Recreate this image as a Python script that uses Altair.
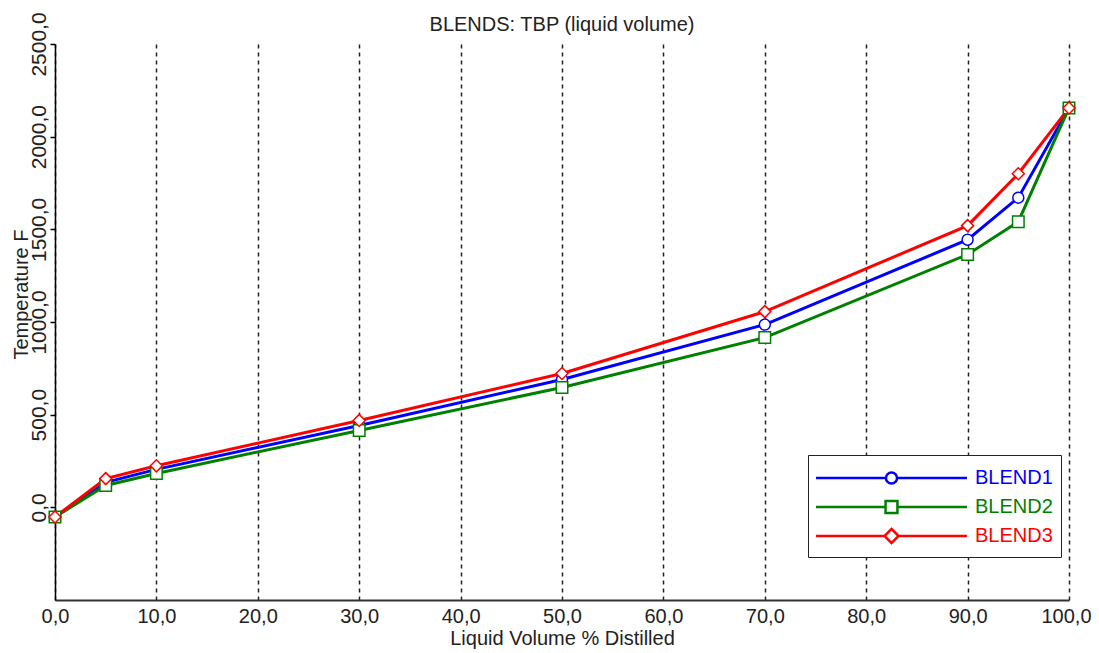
import altair as alt
import pandas as pd

# ---- data ----
x_vals = [0, 5, 10, 30, 50, 70, 90, 95, 100]
blend1 = [-52, 135, 205, 442, 690, 986, 1444, 1671, 2155]
blend2 = [-52, 118, 183, 415, 647, 916, 1364, 1541, 2155]
blend3 = [-52, 155, 224, 469, 722, 1056, 1520, 1800, 2155]
series_names = ["BLEND1", "BLEND2", "BLEND3"]
series_colors = ["#0000FF", "#008000", "#FF0000"]
series_shapes = ["circle", "square", "diamond"]
series_sizes = [121, 144, 196]
x_ticks = [0, 10, 20, 30, 40, 50, 60, 70, 80, 90, 100]
y_ticks = [0, 500, 1000, 1500, 2000, 2500]

rows = []
for name, vals in zip(series_names, [blend1, blend2, blend3]):
    for xv, yv in zip(x_vals, vals):
        rows.append({"x": xv, "y": yv, "series": name})
df = pd.DataFrame(rows)

FONT = "Liberation Sans"
fmt = "replace(format(datum.value, '.1f'), '.', ',')"

# legend symbols: line with marker, in symbol units
L = 5.59
r = 0.41
h = 0.44
d = 0.52
legend_paths = [
    f"M{-L},0L{-r},0M{r},0L{L},0M{r},0A{r},{r},0,1,1,{-r},0A{r},{r},0,1,1,{r},0Z",
    f"M{-L},0L{-h},0M{h},0L{L},0M{-h},{-h}L{h},{-h}L{h},{h}L{-h},{h}Z",
    f"M{-L},0L{-d},0M{d},0L{L},0M0,{-d}L{d},0L0,{d}L{-d},0Z",
]

x_enc = alt.X(
    "x:Q",
    scale=alt.Scale(domain=[0, 100], nice=False, zero=False),
    axis=alt.Axis(
        values=x_ticks,
        labelExpr=fmt,
        labelFlush=False,
        labelOffset={"condition": {"test": "datum.value == 100", "value": -3}, "value": 0},
        title="Liquid Volume % Distilled",
        grid=True,
        gridDash=[4, 4],
        gridColor="#222222",
        gridWidth=1.5,
        gridOpacity=1,
        domainColor="#333333",
        domainWidth=2,
        ticks=False,
        labelPadding=6,
        labelFont=FONT,
        labelFontSize=20,
        labelColor="#222222",
        titleFont=FONT,
        titleFontSize=20,
        titleFontWeight="normal",
        titleColor="#222222",
        titlePadding=2,
    ),
)
y_enc = alt.Y(
    "y:Q",
    scale=alt.Scale(domain=[-500, 2500], nice=False, zero=False),
    axis=alt.Axis(
        values=y_ticks,
        labelExpr=fmt,
        labelFlush=False,
        title="Temperature F",
        grid=False,
        domainColor="#000000",
        domainWidth=1.5,
        tickColor="#000000",
        tickSize=5,
        tickWidth=1.5,
        labelAngle=270,
        labelAlign="center",
        labelBaseline="bottom",
        labelPadding=1,
        labelFont=FONT,
        labelFontSize=21,
        labelColor="#222222",
        titleFont=FONT,
        titleFontSize=20,
        titleFontWeight="normal",
        titleColor="#222222",
        titleAngle=270,
        titleAlign="center",
        titleBaseline="middle",
        titleX=-34,
        titleY=250,
    ),
)

base = alt.Chart(df)

lines = base.mark_line(strokeWidth=3).encode(
    x=x_enc,
    y=y_enc,
    color=alt.Color("series:N", scale=alt.Scale(domain=series_names, range=series_colors), legend=None),
)

points = base.mark_point(filled=False, fill="white", strokeWidth=1.5, opacity=1).encode(
    x=x_enc,
    y=y_enc,
    color=alt.Color("series:N", scale=alt.Scale(domain=series_names, range=series_colors), legend=None),
    shape=alt.Shape("series:N", scale=alt.Scale(domain=series_names, range=series_shapes), legend=None),
    size=alt.Size("series:N", scale=alt.Scale(domain=series_names, range=series_sizes), legend=None),
)

label_color_expr = (
    f"datum.label == '{series_names[0]}' ? '{series_colors[0]}' : "
    f"datum.label == '{series_names[1]}' ? '{series_colors[1]}' : '{series_colors[2]}'"
)
legend_props = dict(
    title=None,
    orient="none",
    legendX=753,
    legendY=411,
    padding=8,
    rowPadding=3,
    symbolOffset=60.5,
    labelOffset=68.5,
    symbolSize=729,
    symbolStrokeWidth=2.5,
    symbolFillColor="white",
    labelFont=FONT,
    labelFontSize=20,
    labelColor={"expr": label_color_expr},
    strokeColor="#222222",
    fillColor="white",
)

legend_layer = base.transform_filter("datum.x > 1000").mark_point(
    filled=False, fill="white", strokeWidth=2.5, opacity=1
).encode(
    x=x_enc,
    y=y_enc,
    color=alt.Color("series:N", scale=alt.Scale(domain=series_names, range=series_colors),
                    legend=alt.Legend(**legend_props)),
    shape=alt.Shape("series:N", scale=alt.Scale(domain=series_names, range=legend_paths),
                    legend=alt.Legend(**legend_props)),
)

chart = (
    alt.layer(lines, points, legend_layer)
    .resolve_scale(color="independent", shape="independent", size="independent")
    .properties(
        width=1014,
        height=556,
        title=alt.TitleParams(
            "BLENDS: TBP (liquid volume)",
            font=FONT,
            fontSize=20,
            fontWeight="normal",
            color="#222222",
            anchor="middle",
            frame="group",
            offset=7,
            dy=30,
        ),
        autosize=alt.AutoSizeParams(type="none"),
        padding={"left": 47, "top": 36, "right": 22, "bottom": 53},
        background="white",
    )
    .configure_view(stroke="transparent", strokeWidth=0)
)

chart.save("out.html", embed_options={"renderer": "svg", "actions": False})
